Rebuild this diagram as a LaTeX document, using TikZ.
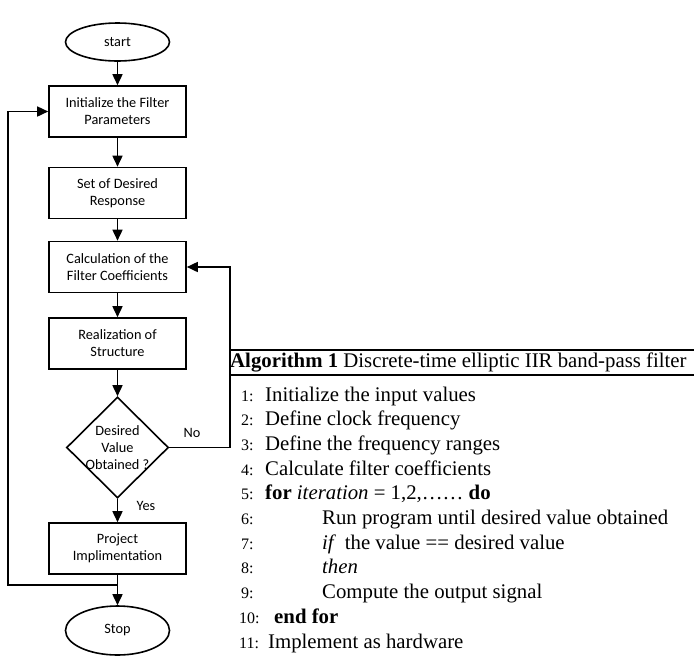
\documentclass[tikz,border=0pt]{standalone}
\usepackage{fontspec}
\setmainfont{Liberation Serif}
\newfontfamily\flowfont{Carlito}
\usetikzlibrary{shapes.geometric,arrows.meta}

\tikzset{
    flowfont/.style={font=\flowfont\fontsize{14.3}{17}\selectfont},
    procbox/.style={draw, line width=1.6pt, rectangle, minimum width=137pt, minimum height=51pt, inner sep=0pt, align=center, flowfont},
    termbox/.style={draw, line width=1.6pt, ellipse, minimum width=104pt, inner sep=0pt, flowfont},
    decibox/.style={draw, line width=1.6pt, diamond, minimum width=102pt, minimum height=101pt, inner sep=0pt},
    flowtext/.style={align=center, inner sep=0pt, flowfont},
    flowline/.style={line width=1.6pt},
    flowarrow/.style={line width=1.6pt, -{Triangle[length=11pt,width=10pt]}},
    algtext/.style={anchor=base west, inner sep=0pt, font=\fontsize{20.8}{24.7}\selectfont},
    algnum/.style={anchor=base west, inner sep=0pt, font=\fontsize{16}{19}\selectfont},
}

\begin{document}
\begin{tikzpicture}[x=1pt, y=-1pt]
    \useasboundingbox (0,0) rectangle (694,657);
    % flowchart
    \node[termbox, minimum height=38pt] (start) at (117.5,42) {start};
    \node[procbox] (init) at (117.5,111.5) {Initialize the Filter\\Parameters};
    \node[procbox] (resp) at (117.5,193) {Set of Desired\\Response};
    \node[procbox] (coef) at (117.5,267) {Calculation of the\\Filter Coefficients};
    \node[procbox] (real) at (117.5,343.5) {Realization of\\Structure};
    \node[decibox] (check) at (117.5,447.5) {};
    \node[flowtext] (checktext) at (check.center) {Desired\\Value\\Obtained ?};
    \node[procbox] (impl) at (117.5,548.5) {Project\\Implimentation};
    \node[termbox, minimum height=49pt] (stop) at (117.5,630.5) {Stop};
    \node[flowtext] (nolabel) at (192,433) {No};
    \node[flowtext] (yeslabel) at (146,506) {Yes};

    \draw[flowarrow] (start) -- (init);
    \draw[flowarrow] (init) -- (resp);
    \draw[flowarrow] (resp) -- (coef);
    \draw[flowarrow] (coef) -- (real);
    \draw[flowarrow] (real) -- (check);
    \draw[flowarrow] (check) -- (impl);
    \draw[flowarrow] (impl) -- (stop);

    % loops
    \coordinate (leftjoin) at (117.5,585);
    \coordinate (leftcorner) at (8,585);
    \draw[flowarrow] (leftjoin) -- (leftcorner) |- (init.west);
    \coordinate (nocorner) at (230,447.5);
    \draw[flowarrow] (check.east) -- (nocorner) |- (coef.east);

    % algorithm
    \coordinate (rulea) at (230,350);
    \coordinate (ruleb) at (230,375);
    \draw[line width=1.8pt] (rulea) -- (694,350);
    \draw[line width=1.2pt] (ruleb) -- (694,375);
    \node[algtext] (algtitle) at (230,367) {\textbf{Algorithm 1} Discrete-time elliptic IIR band-pass filter};

    \node[algnum] (n1) at (241,401) {1:};
    \node[algtext] (l1) at (265,401) {Initialize the input values};
    \node[algnum] (n2) at (241,425.7) {2:};
    \node[algtext] (l2) at (265,425.7) {Define clock frequency};
    \node[algnum] (n3) at (241,450.4) {3:};
    \node[algtext] (l3) at (265,450.4) {Define the frequency ranges};
    \node[algnum] (n4) at (241,475.1) {4:};
    \node[algtext] (l4) at (265,475.1) {Calculate filter coefficients};
    \node[algnum] (n5) at (241,499.8) {5:};
    \node[algtext] (l5) at (265,499.8) {\textbf{for} \textit{iteration} = 1,2,…… \textbf{do}};
    \node[algnum] (n6) at (241,524.5) {6:};
    \node[algtext] (l6) at (322,524.5) {Run program until desired value obtained};
    \node[algnum] (n7) at (241,549.2) {7:};
    \node[algtext] (l7) at (322,549.2) {\textit{if}\, the value == desired value};
    \node[algnum] (n8) at (241,573.9) {8:};
    \node[algtext] (l8) at (322,573.9) {\textit{then}};
    \node[algnum] (n9) at (241,598.6) {9:};
    \node[algtext] (l9) at (322,598.6) {Compute the output signal};
    \node[algnum] (n10) at (239,623.3) {10:};
    \node[algtext] (l10) at (274,623.3) {\textbf{end for}};
    \node[algnum] (n11) at (239,648) {11:};
    \node[algtext] (l11) at (268,648) {Implement as hardware};
\end{tikzpicture}
\end{document}
